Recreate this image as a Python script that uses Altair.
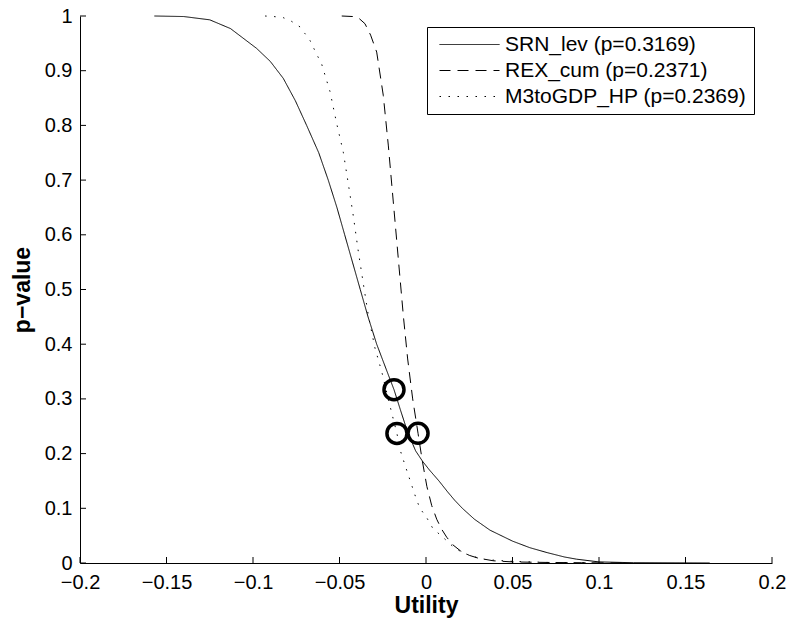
import altair as alt
import pandas as pd

SERIES = ["SRN_lev (p=0.3169)", "REX_cum (p=0.2371)", "M3toGDP_HP (p=0.2369)"]

srn_x = [-0.157, -0.140, -0.125, -0.113, -0.098, -0.090, -0.0825, -0.0755, -0.069, -0.062,
         -0.0565, -0.0515, -0.047, -0.0425, -0.038, -0.0335, -0.0285, -0.0225, -0.0185, -0.0148,
         -0.0107, -0.006, -0.002, 0.002, 0.0075, 0.0125, 0.0165, 0.021, 0.028, 0.037,
         0.050, 0.060, 0.070, 0.080, 0.087, 0.100, 0.120, 0.164]
srn_p = [1.0, 0.999, 0.993, 0.977, 0.941, 0.917, 0.886, 0.845, 0.800, 0.750,
         0.700, 0.650, 0.600, 0.550, 0.500, 0.450, 0.400, 0.350, 0.317, 0.280,
         0.240, 0.205, 0.186, 0.170, 0.150, 0.130, 0.115, 0.100, 0.080, 0.060,
         0.040, 0.028, 0.019, 0.011, 0.007, 0.002, 0.0005, 0.0]

rex_x = [-0.0487, -0.042, -0.0385, -0.0353, -0.032, -0.0285, -0.0247, -0.0218, -0.0189, -0.016,
         -0.0131, -0.0106, -0.0077, -0.0046, -0.0022, 0.0005, 0.0033, 0.0062, 0.009, 0.012,
         0.0156, 0.020, 0.025, 0.030, 0.039, 0.050, 0.070, 0.090, 0.115]
rex_p = [1.0, 0.999, 0.995, 0.986, 0.965, 0.934, 0.855, 0.764, 0.660, 0.556,
         0.452, 0.373, 0.300, 0.2371, 0.188, 0.140, 0.105, 0.080, 0.062, 0.047,
         0.033, 0.022, 0.014, 0.009, 0.004, 0.002, 0.001, 0.0005, 0.0]

m3_x = [-0.093, -0.088, -0.0825, -0.0776, -0.0728, -0.070, -0.067, -0.0635, -0.0603, -0.0555,
        -0.0516, -0.0478, -0.0449, -0.042, -0.0391, -0.0362, -0.0333, -0.0295, -0.0256, -0.0198,
        -0.0168, -0.015, -0.0112, -0.0054, -0.0035, 0.0004, 0.004, 0.0098, 0.0156, 0.021,
        0.027, 0.035, 0.050, 0.070, 0.100]
m3_p = [1.0, 0.999, 0.997, 0.990, 0.980, 0.968, 0.955, 0.932, 0.912, 0.862,
        0.803, 0.751, 0.693, 0.634, 0.569, 0.510, 0.452, 0.393, 0.350, 0.274,
        0.2369, 0.207, 0.170, 0.115, 0.100, 0.083, 0.063, 0.047, 0.030, 0.019,
        0.012, 0.006, 0.003, 0.001, 0.0]

marker_x = [-0.0185, -0.0046, -0.0168]
marker_p = [0.3169, 0.2371, 0.2369]

x_ticks = [-0.2, -0.15, -0.1, -0.05, 0.0, 0.05, 0.1, 0.15, 0.2]
y_ticks = [0.0, 0.1, 0.2, 0.3, 0.4, 0.5, 0.6, 0.7, 0.8, 0.9, 1.0]

rows = []
for name, xs, ps in zip(SERIES, [srn_x, rex_x, m3_x], [srn_p, rex_p, m3_p]):
    for i, (xv, pv) in enumerate(zip(xs, ps)):
        rows.append({"series": name, "utility": xv, "p": pv, "idx": i})
lines_df = pd.DataFrame(rows)
markers_df = pd.DataFrame({"utility": marker_x, "p": marker_p})
xt_df = pd.DataFrame({"utility": x_ticks})
yt_df = pd.DataFrame({"p": y_ticks})

FONT = "Liberation Sans"
W, H = 692, 547

x_scale = alt.Scale(domain=[-0.2, 0.2], nice=False, zero=False)
y_scale = alt.Scale(domain=[0, 1], nice=False)

x_axis = alt.Axis(values=x_ticks, format="~g", title="Utility", ticks=False, grid=False,
                  labelPadding=9, titlePadding=2, labelFlush=False)
y_axis = alt.Axis(values=y_ticks, format="~g", title="p\u2212value", ticks=False, grid=False,
                  labelPadding=8, titlePadding=10, labelFlush=False)

lines = alt.Chart(lines_df).mark_line(color="black", strokeWidth=1).encode(
    x=alt.X("utility:Q", scale=x_scale, axis=x_axis),
    y=alt.Y("p:Q", scale=y_scale, axis=y_axis),
    strokeDash=alt.StrokeDash(
        "series:N",
        scale=alt.Scale(domain=SERIES, range=[[1, 0], [11, 7], [1.5, 7.5]]),
        legend=alt.Legend(
            title=None, orient="none", legendX=347, legendY=11,
            symbolType="M-3,0H3", symbolSize=400, symbolStrokeWidth=1,
            symbolStrokeColor="black", symbolOffset=25,
            labelFontSize=21, labelFont=FONT,
            labelColor="black", labelOffset=25, rowPadding=4, padding=7,
            strokeColor="black", fillColor="white", labelLimit=400,
        ),
    ),
    order="idx:Q",
    detail="series:N",
)

markers = alt.Chart(markers_df).mark_point(
    shape="circle", size=400, filled=False, color="black", strokeWidth=3.5, opacity=1
).encode(
    x=alt.X("utility:Q", scale=x_scale),
    y=alt.Y("p:Q", scale=y_scale),
)

xticks = alt.Chart(xt_df).mark_rule(color="black", strokeWidth=1).encode(
    x=alt.X("utility:Q", scale=x_scale),
    y=alt.value(H),
    y2=alt.value(H - 6),
)
yticks = alt.Chart(yt_df).mark_rule(color="black", strokeWidth=1).encode(
    y=alt.Y("p:Q", scale=y_scale),
    x=alt.value(0),
    x2=alt.value(6),
)

chart = alt.layer(lines, markers, xticks, yticks).properties(
    width=W, height=H,
    padding={"left": 80, "top": 16, "right": 16, "bottom": 62},
    autosize=alt.AutoSizeParams(type="none"),
    background="white",
).configure_view(stroke=None).configure_axis(
    domainColor="black", domainWidth=1, labelFont=FONT, labelFontSize=20,
    labelColor="black", titleFont=FONT, titleFontSize=23, titleFontWeight="bold",
    titleColor="black",
)

chart.save("out.html", embed_options={"renderer": "svg", "actions": False})
